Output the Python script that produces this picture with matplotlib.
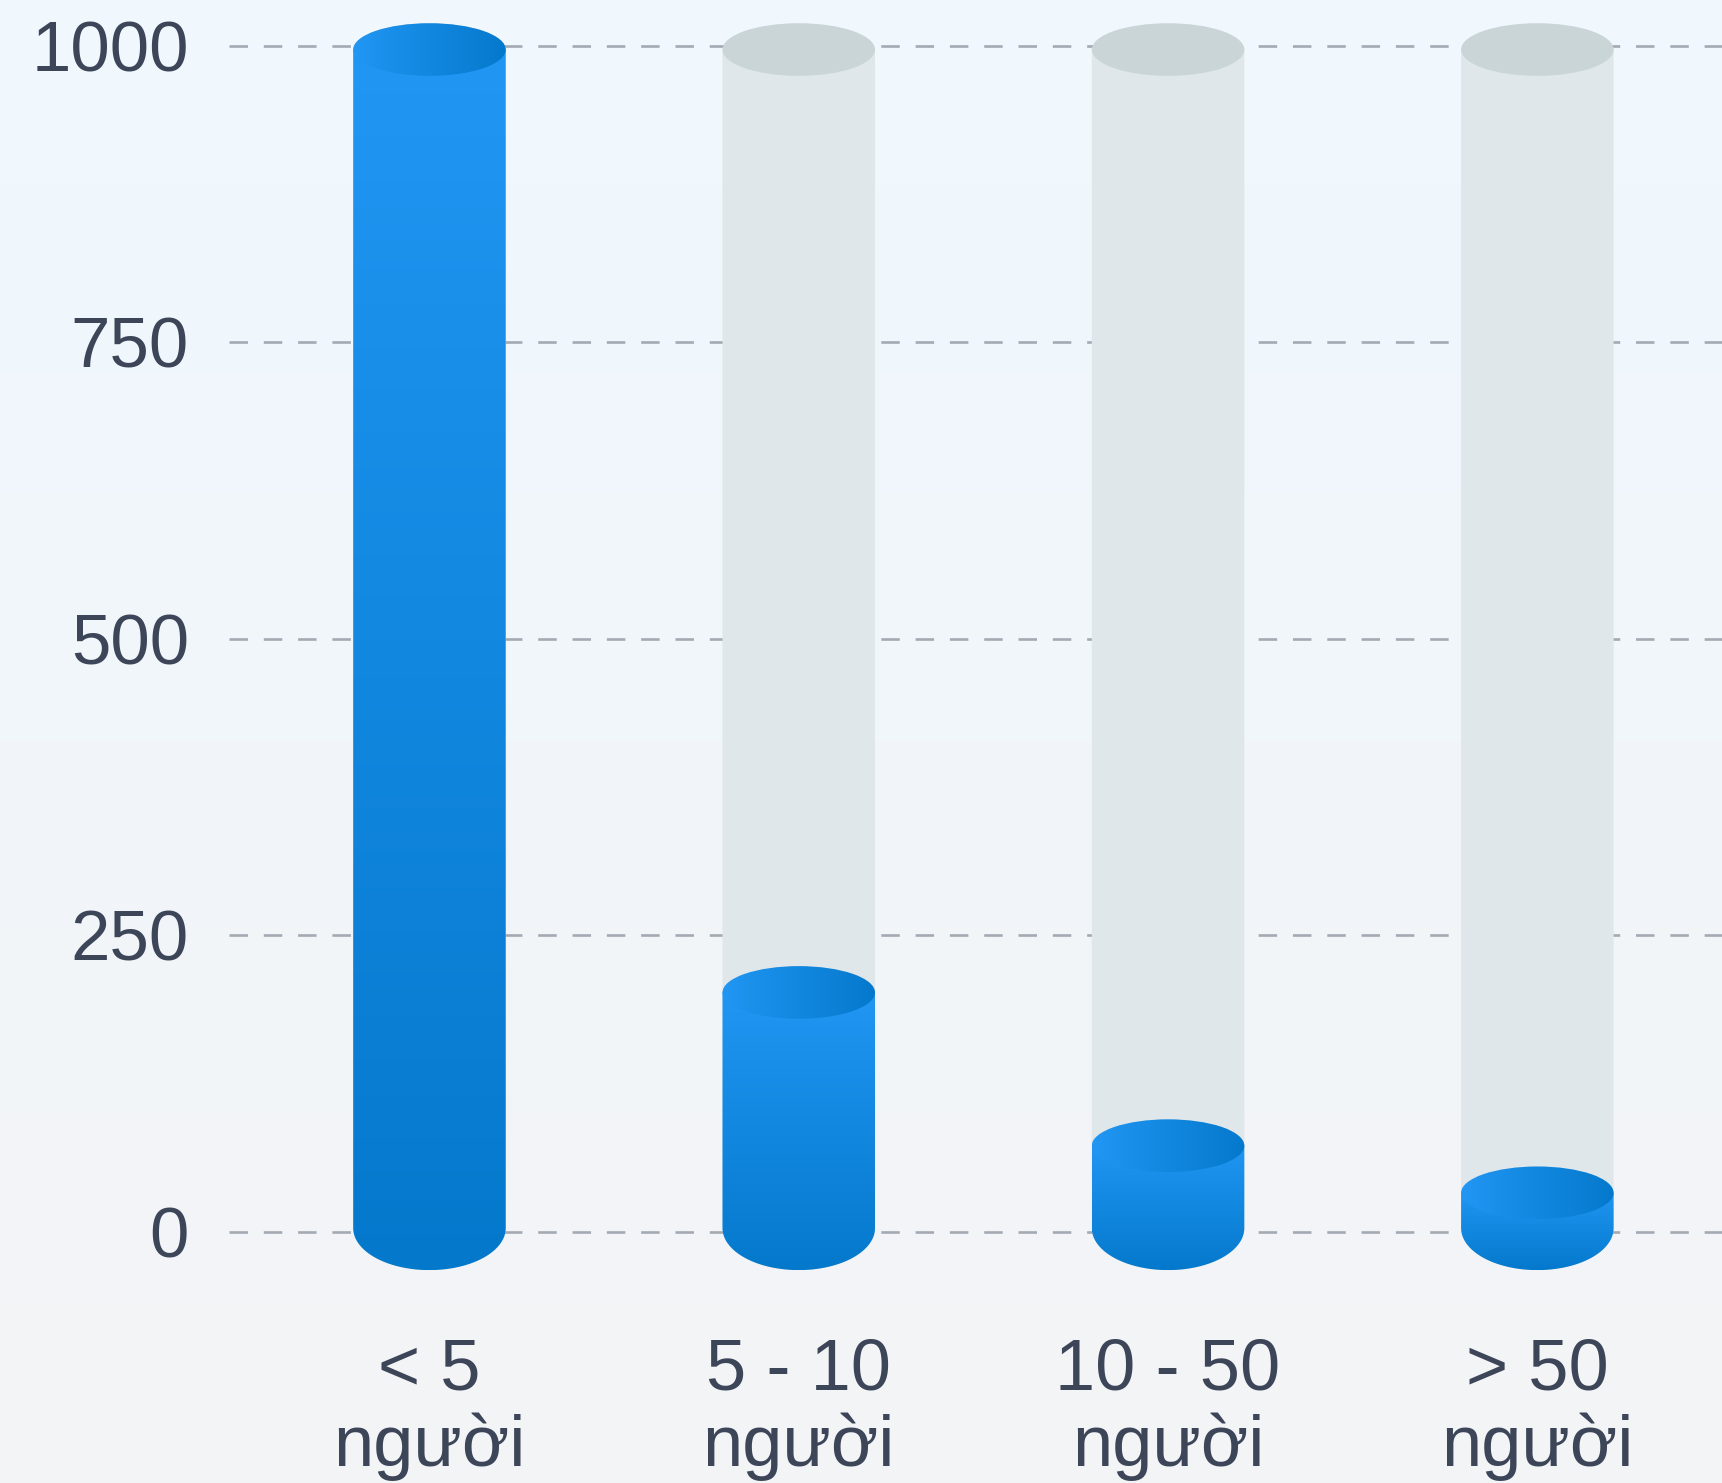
import numpy as np
import matplotlib
matplotlib.use("Agg")
import matplotlib.pyplot as plt
from matplotlib.path import Path
from matplotlib.patches import PathPatch, Ellipse
from matplotlib.colors import LinearSegmentedColormap
from matplotlib.transforms import blended_transform_factory

# region DATA
categories = ["< 5", "5 - 10", "10 - 50", "> 50"]
unit_label = "người"
values = [1000, 200, 70, 30]
y_max = 1000
y_ticks = [0, 250, 500, 750, 1000]
# endregion

# region STYLE
W, H = 1722, 1483
text_color = "#3d4659"
grid_color = "#a4aab3"
blue_light = "#2196f3"
blue_dark = "#0479cc"
gray_body = "#dfe7ea"
gray_top = "#c9d5d7"
plt.rcParams['font.family'] = ['Liberation Sans', 'DejaVu Sans']

bar_w = 0.413       # in category units
top_ry = 22.2       # half height of the top ellipse (value units)
bot_ry = 35.4       # half height of the bottom curve
base = 3.0          # cylinders sit slightly inside the grid
squeeze = 0.994
# endregion

fig = plt.figure(figsize=(W / 100, H / 100), dpi=100)

# background gradient
bg = fig.add_axes([0, 0, 1, 1], zorder=-1)
grad = np.linspace(0, 1, 256).reshape(-1, 1)
bg.imshow(grad, aspect='auto', origin='upper', extent=[0, 1, 0, 1],
          cmap=LinearSegmentedColormap.from_list("bg", ["#f0f8fe", "#f3f4f6"]))
bg.axis('off')

# main axes, placed so that 0 and 1000 land on the right pixels
px_per_unit = (1231.7 - 46) / 1000
y_lo, y_hi = -60, 1035
ax_bottom_px = 1231.7 + (0 - y_lo) * px_per_unit
ax_top_px = 46 - (y_hi - y_max) * px_per_unit
left_px = 229.3
ax = fig.add_axes([left_px / W, 1 - ax_bottom_px / H, (W - left_px) / W,
                   (ax_bottom_px - ax_top_px) / H])
ax.set_facecolor('none')

vgrad = np.linspace(0, 1, 256).reshape(-1, 1)
hgrad = np.linspace(0, 1, 256).reshape(1, -1)
blue_cmap = LinearSegmentedColormap.from_list("blue", [blue_light, blue_dark])


def body_path(xc, y_top, y_bot):
    x0, x1 = xc - bar_w / 2, xc + bar_w / 2
    t = np.linspace(np.pi, 2 * np.pi, 60)
    arc = np.column_stack([xc + bar_w / 2 * np.cos(t), y_bot + bot_ry * np.sin(t)])
    verts = [(x0, y_top), (x0, y_bot)] + [tuple(p) for p in arc] + [(x1, y_bot), (x1, y_top), (x0, y_top)]
    return Path(verts, closed=True)


for i, v in enumerate(values):
    y_bot = base
    y_full = base + y_max * squeeze
    y_top = base + v * squeeze

    # gray "empty" cylinder
    ax.add_patch(PathPatch(body_path(i, y_full, y_bot), facecolor=gray_body,
                           edgecolor='none', zorder=2))
    ax.add_patch(Ellipse((i, y_full), bar_w, 2 * top_ry, facecolor=gray_top,
                         edgecolor='none', zorder=3))

    # blue filled part
    clip = PathPatch(body_path(i, y_top, y_bot), transform=ax.transData)
    im = ax.imshow(vgrad, aspect='auto', origin='upper', cmap=blue_cmap, zorder=4,
                   extent=[i - bar_w / 2, i + bar_w / 2, y_bot - bot_ry, y_top],
                   interpolation='bilinear')
    im.set_clip_path(clip)

    top = Ellipse((i, y_top), bar_w, 2 * top_ry, transform=ax.transData)
    im2 = ax.imshow(hgrad, aspect='auto', origin='upper', cmap=blue_cmap, zorder=5,
                    extent=[i - bar_w / 2, i + bar_w / 2, y_top - top_ry, y_top + top_ry],
                    interpolation='bilinear')
    im2.set_clip_path(top)

ax.set_xlim(-0.542, 3.5)
ax.set_ylim(y_lo, y_hi)
ax.set_yticks(y_ticks)
ax.set_yticklabels([str(t) for t in y_ticks])
ax.set_xticks([])
ax.tick_params(axis='y', length=0, pad=29, labelsize=51, labelcolor=text_color)
ax.grid(axis='y', color=grid_color, linewidth=1.9, linestyle=(0, (7, 6)), zorder=1)
ax.set_axisbelow(True)
for s in ax.spines.values():
    s.set_visible(False)

# two line category labels
tr = blended_transform_factory(ax.transData, fig.transFigure)
for i, c in enumerate(categories):
    ax.text(i, 1 - 1389 / H, c, transform=tr, ha='center', va='baseline',
            fontsize=52, color=text_color, clip_on=False)
    ax.text(i, 1 - 1466 / H, unit_label, transform=tr, ha='center', va='baseline',
            fontsize=52, color=text_color, clip_on=False)

plt.savefig("out.png", dpi=100)
